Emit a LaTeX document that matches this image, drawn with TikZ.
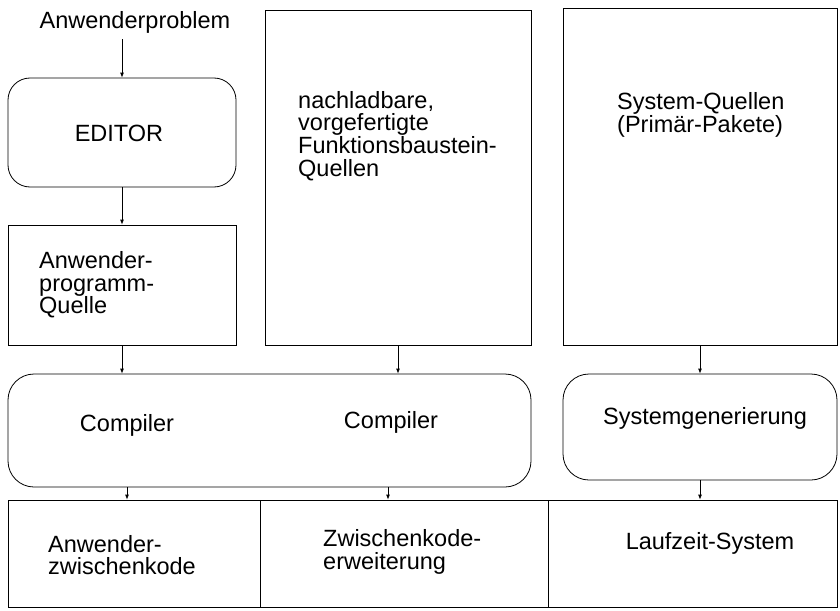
\documentclass[tikz,border=0pt]{standalone}
\usepackage{fontspec}
\setmainfont{Liberation Sans}
\usepackage{tikz}
\usetikzlibrary{arrows.meta}

\tikzset{
	kasten/.style={draw, line width=0.8pt, inner sep=0pt},
	rkasten/.style={kasten, rounded corners=22pt},
	txt/.style={inner sep=0pt, align=left, font=\fontsize{23.5pt}{22.7pt}\selectfont},
	pfeil/.style={line width=0.8pt, -{Latex[length=5pt,width=4pt]}}
}

\begin{document}
\begin{tikzpicture}[x=1pt, y=-1pt]
		\useasboundingbox (0,0) rectangle (840,610);
		% linke Spalte
		\node (prob) [txt] at (135,22) {Anwenderproblem};
		\node (editor) [rkasten, minimum width=228pt, minimum height=109pt] at (122,132.5) {};
		\node (editortxt) [txt] at (119,133) {EDITOR};
		\node (quelle) [kasten, minimum width=228pt, minimum height=120pt] at (122,285) {};
		\node (quelletxt) [txt, anchor=west] at (39,285) {Anwender-\\programm-\\Quelle};
		% mittlere und rechte Spalte
		\node (baustein) [kasten, minimum width=266pt, minimum height=335pt] at (398,177.5) {};
		\node (bausteintxt) [txt, anchor=west] at (298,136) {nachladbare,\\vorgefertigte\\Funktionsbaustein-\\Quellen};
		\node (sysq) [kasten, minimum width=274pt, minimum height=337pt] at (700,176.5) {};
		\node (sysqtxt) [txt, anchor=west] at (617,115) {System-Quellen\\(Prim\"ar-Pakete)};
		% Compiler und Systemgenerierung
		\node (comp) [rkasten, rounded corners=26pt, minimum width=523pt, minimum height=113pt] at (269.5,430.5) {};
		\node (compA) [txt] at (127,425) {Compiler};
		\node (compB) [txt] at (391,422) {Compiler};
		\node (sysgen) [rkasten, rounded corners=26pt, minimum width=274pt, minimum height=106pt] at (700,427) {};
		\node (sysgentxt) [txt] at (705,418) {Systemgenerierung};
		% untere Zeile
		\node (zk) [kasten, minimum width=252pt, minimum height=107pt] at (134,553.5) {};
		\node (erw) [kasten, minimum width=288pt, minimum height=107pt] at (404,553.5) {};
		\node (lz) [kasten, minimum width=289pt, minimum height=107pt] at (692.5,553.5) {};
		\node (zktxt) [txt, anchor=west] at (48,555) {Anwender-\\zwischenkode};
		\node (erwtxt) [txt, anchor=west] at (323,552) {Zwischenkode-\\erweiterung};
		\node (lztxt) [txt] at (710,543) {Laufzeit-System};
		% Pfeile
		\draw [pfeil] ([yshift=-6pt]prob.south -| editor.north) -- (editor.north);
		\draw [pfeil] (editor.south) -- (editor.south |- quelle.north);
		\draw [pfeil] (quelle.south) -- (quelle.south |- comp.north);
		\draw [pfeil] (baustein.south) -- (baustein.south |- comp.north);
		\draw [pfeil] (sysq.south) -- (sysq.south |- sysgen.north);
		\draw [pfeil] (compA.center |- comp.south) -- (compA.center |- zk.north);
		\draw [pfeil] ([xshift=-3pt]compB.center |- comp.south) -- ([xshift=-3pt]compB.center |- erw.north);
		\draw [pfeil] (sysgen.south) -- (sysgen.south |- lz.north);
		\end{tikzpicture}
\end{document}
